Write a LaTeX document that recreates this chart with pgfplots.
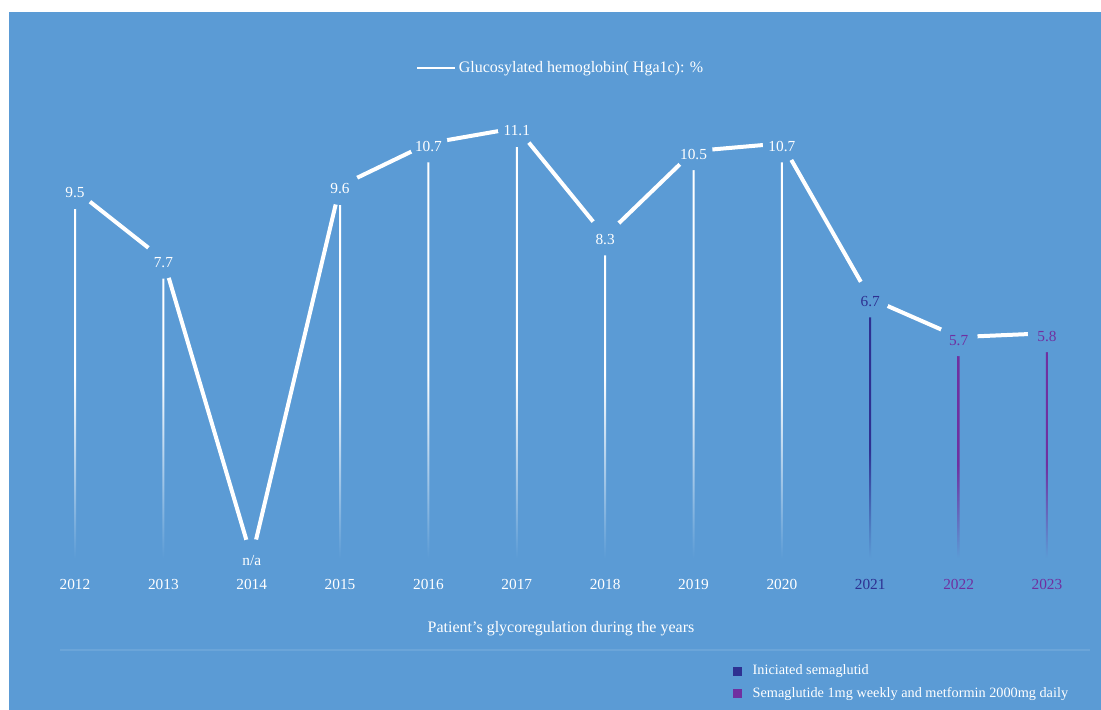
\documentclass[border=0pt]{standalone}
\usepackage{pgfplots}
\pgfplotsset{compat=1.18}
\usepackage{pgfplotstable}
\usepackage{fontspec}
\setmainfont{Liberation Serif}
\definecolor{bg}{RGB}{91,155,213}
\definecolor{darkb}{RGB}{46,49,146}
\definecolor{purp}{RGB}{112,48,160}
\pgfdeclareverticalshading{dropw}{100bp}{color(0bp)=(bg); color(25bp)=(bg); color(47bp)=(white); color(100bp)=(white)}
\pgfdeclareverticalshading{dropb}{100bp}{color(0bp)=(bg); color(25bp)=(bg); color(47bp)=(darkb); color(100bp)=(darkb)}
\pgfdeclareverticalshading{dropp}{100bp}{color(0bp)=(bg); color(25bp)=(bg); color(47bp)=(purp); color(100bp)=(purp)}
\pgfplotstableread{
x y lab
0 9.5 9.5
1 7.7 7.7
2 0 n/a
3 9.6 9.6
4 10.7 10.7
5 11.1 11.1
6 8.3 8.3
7 10.5 10.5
8 10.7 10.7
9 6.7 6.7
10 5.7 5.7
11 5.8 5.8
}\hba
\pgfplotsset{
  gap/.style={draw=none, mark=none, forget plot, nodes near coords={}, 
    every node near coord/.append style={circle, fill=bg, minimum size=28.5pt, inner sep=0pt, anchor=center}},
  lbl/.style={draw=none, mark=none, forget plot, nodes near coords, point meta=explicit symbolic,
    every node near coord/.append style={anchor=center, yshift=-2.25pt, text=#1, inner sep=0pt, font=\fontsize{11.5}{13}\selectfont}},
  drop/.style={ybar, bar width=1.5pt, bar shift=0pt, draw=none, shading=#1, forget plot, restrict y to domain=0:20},
}
\begin{document}
\begin{tikzpicture}[x=0.75pt,y=0.75pt]
\fill[white] (0,0) rectangle (1101,710);
\fill[bg] (9,0) rectangle (1101,698);
\draw[white, opacity=0.1, line width=0.9pt] (60,60) -- (1090,60);
\begin{axis}[
  at={(-10.02pt,105.28pt)}, anchor=south west,
  x=66.27pt, y=29.0625pt,
  xmin=-1, xmax=12, ymin=-0.3, ymax=13,
  axis line style={draw=none},
  major tick length=0pt,
  ytick=\empty,
  xtick={0,...,11},
  xticklabels={2012,2013,2014,2015,2016,2017,2018,2019,2020,\textcolor{darkb}{2021},\textcolor{purp}{2022},\textcolor{purp}{2023}},
  xticklabel style={text=white, font=\fontsize{11.5}{13}\selectfont, yshift=-3.5pt},
  clip=false,
  xlabel={Patient's glycoregulation during the years},
  xlabel style={at={(axis description cs:0.5,-0.1153)}, anchor=center, text=white, font=\fontsize{12}{14}\selectfont},
  legend style={at={(0.5,0.973)}, anchor=center, draw=none, fill=none, text=white, font=\fontsize{12}{14}\selectfont},
  legend image code/.code={\draw[white, line width=1.5pt] (0pt,0pt) -- (28.5pt,0pt);},
]
\addplot[white, line width=3pt, mark=none] table[x=x,y=y] {\hba};
\addlegendentry{Glucosylated hemoglobin( Hga1c): \%}
\addplot[gap] table[x=x,y=y] {\hba};
\addplot[drop=dropw, restrict x to domain=0:8] table[x=x, y expr=\thisrow{y}-0.335] {\hba};
\addplot[drop=dropb, restrict x to domain=9:9] table[x=x, y expr=\thisrow{y}-0.335] {\hba};
\addplot[drop=dropp, restrict x to domain=10:11] table[x=x, y expr=\thisrow{y}-0.335] {\hba};
\addplot[lbl=white, restrict x to domain=0:8] table[x=x,y=y,meta=lab] {\hba};
\addplot[lbl=darkb, restrict x to domain=9:9] table[x=x,y=y,meta=lab] {\hba};
\addplot[lbl=purp, restrict x to domain=10:11] table[x=x,y=y,meta=lab] {\hba};
\end{axis}
\fill[darkb] (733,34) rectangle (742,43);
\node[anchor=west, text=white, font=\fontsize{10.7}{12}\selectfont] at (748,38.5) {Iniciated semaglutid};
\fill[purp] (733,11.5) rectangle (742,20.5);
\node[anchor=west, text=white, font=\fontsize{10.7}{12}\selectfont] at (748,16) {Semaglutide 1mg weekly and metformin 2000mg daily};
\pgfresetboundingbox
\path (0,0) rectangle (1101,710);
\end{tikzpicture}
\end{document}
